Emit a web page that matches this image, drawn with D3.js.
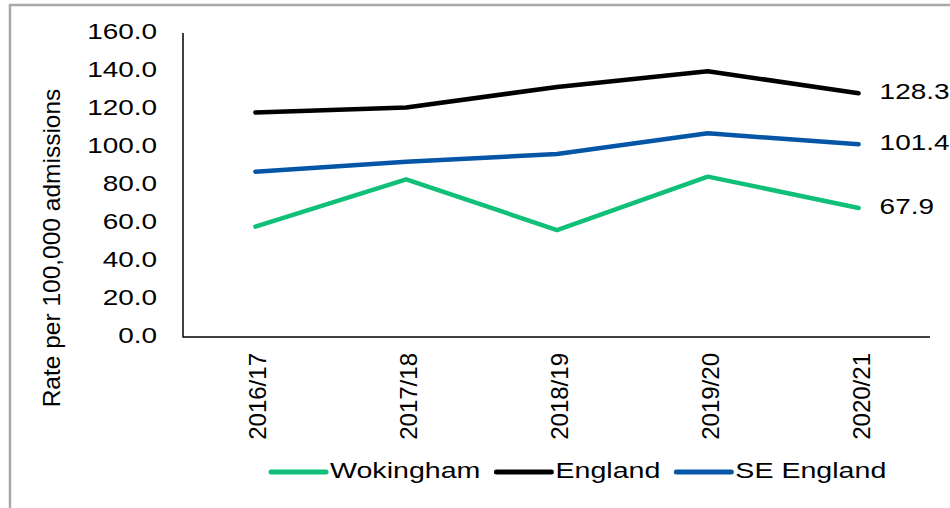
<!DOCTYPE html>
<html>
<head>
<meta charset="utf-8">
<script src="https://cdnjs.cloudflare.com/ajax/libs/d3/7.8.5/d3.min.js"></script>
<style>
	body { margin: 0; background: #fff; }
	svg { display: block; font-family: "Liberation Sans", Arial, sans-serif; }
</style>
</head>
<body>
<svg width="950" height="508"></svg>
<script>
// Data
var years = ["2016/17", "2017/18", "2018/19", "2019/20", "2020/21"];
var wokingham = [58.1, 83.0, 56.3, 84.4, 67.9];
var england = [118.2, 120.8, 131.6, 139.9, 128.3];
var seEngland = [87.0, 92.3, 96.3, 107.2, 101.4];
var yTicks = [0, 20, 40, 60, 80, 100, 120, 140, 160];

var series = [
	{ name: "Wokingham", values: wokingham, color: "#10c078" },
	{ name: "England", values: england, color: "#000000" },
	{ name: "SE England", values: seEngland, color: "#0656a8" }
];

var svg = d3.select("svg"),
	width = +svg.attr("width"),
	height = +svg.attr("height");

var sx = 1.27; // the source image is stretched sideways a bit
var fontSize = 22;

// Outer frame (only top and left edges show)
svg.append("rect")
	.attr("x", 10).attr("y", 5)
	.attr("width", width + 20).attr("height", height + 20)
	.attr("fill", "none")
	.attr("stroke", "#a8a8a8")
	.attr("stroke-width", 2.5);

var x = d3.scalePoint()
	.domain(years)
	.range([180, 934])
	.padding(0.5);

var y = d3.scaleLinear()
	.domain([0, 160])
	.range([337, 33]);

var plotLeft = 183, plotRight = 930;

// Y axis
var yAxis = svg.append("g")
	.attr("transform", "translate(" + plotLeft + ",0)")
	.call(d3.axisLeft(y).tickValues(yTicks).tickSize(0).tickFormat(d3.format(".1f")));
yAxis.select(".domain").remove();
yAxis.selectAll("text")
	.attr("x", 0).attr("dy", null)
	.attr("dominant-baseline", "middle")
	.attr("font-size", fontSize)
	.attr("font-family", "Liberation Sans, Arial, sans-serif")
	.attr("fill", "#000")
	.attr("text-anchor", "end")
	.attr("transform", function () {
		return "translate(-26,0) scale(" + sx + ",1)";
	});

svg.append("line")
	.attr("x1", plotLeft).attr("x2", plotLeft)
	.attr("y1", y(160)).attr("y2", y(0) + 0.5)
	.attr("stroke", "#000").attr("stroke-width", 1.5);

// X axis
var xAxis = svg.append("g")
	.attr("transform", "translate(0," + y(0) + ")")
	.call(d3.axisBottom(x).tickSize(0));
xAxis.select(".domain").remove();
xAxis.selectAll("text")
	.attr("font-size", 24)
	.attr("font-family", "Liberation Sans, Arial, sans-serif")
	.attr("fill", "#000")
	.attr("text-anchor", "end")
	.attr("x", -16).attr("y", 2)
	.attr("dy", "0.35em")
	.attr("transform", "rotate(-90)");

svg.append("line")
	.attr("x1", plotLeft).attr("x2", plotRight)
	.attr("y1", y(0)).attr("y2", y(0))
	.attr("stroke", "#000").attr("stroke-width", 1.5);

// Y axis title
svg.append("text")
	.attr("transform", "translate(60," + 248 + ") rotate(-90)")
	.attr("text-anchor", "middle")
	.attr("font-size", 24.5)
	.attr("fill", "#000")
	.text("Rate per 100,000 admissions");

// Lines
var line = d3.line()
	.x((d, i) => x(years[i]))
	.y((d) => y(d));

svg.append("g")
	.selectAll("path")
	.data(series)
	.enter().append("path")
	.attr("d", (d) => line(d.values))
	.attr("fill", "none")
	.attr("stroke", (d) => d.color)
	.attr("stroke-width", 4.5)
	.attr("stroke-linejoin", "round")
	.attr("stroke-linecap", "round");

// Labels at the last point
var last = years.length - 1;
svg.append("g")
	.selectAll("text")
	.data(series)
	.enter().append("text")
	.attr("transform", (d) => "translate(" + (x(years[last]) + 21) + "," + y(d.values[last]) + ") scale(" + sx + ",1)")
	.attr("dominant-baseline", "middle")
	.attr("font-size", fontSize)
	.attr("fill", "#000")
	.text((d) => d3.format(".1f")(d.values[last]));

// Legend
var legend = svg.append("g").attr("transform", "translate(271,472)");
var lx = 0;
series.forEach(function (s, i) {
	var g = legend.append("g").attr("transform", "translate(" + lx + ",0)");
	g.append("line")
		.attr("x1", 0).attr("x2", 55)
		.attr("y1", 0).attr("y2", 0)
		.attr("stroke", s.color)
		.attr("stroke-width", 5)
		.attr("stroke-linecap", "round");
	var t = g.append("text")
		.attr("transform", "translate(59,0) scale(1.3,1)")
		.attr("dominant-baseline", "middle")
		.attr("font-size", fontSize)
		.attr("fill", "#000")
		.text(s.name);
	lx += 59 + t.node().getComputedTextLength() * 1.3 + 16;
});
</script>
</body>
</html>
